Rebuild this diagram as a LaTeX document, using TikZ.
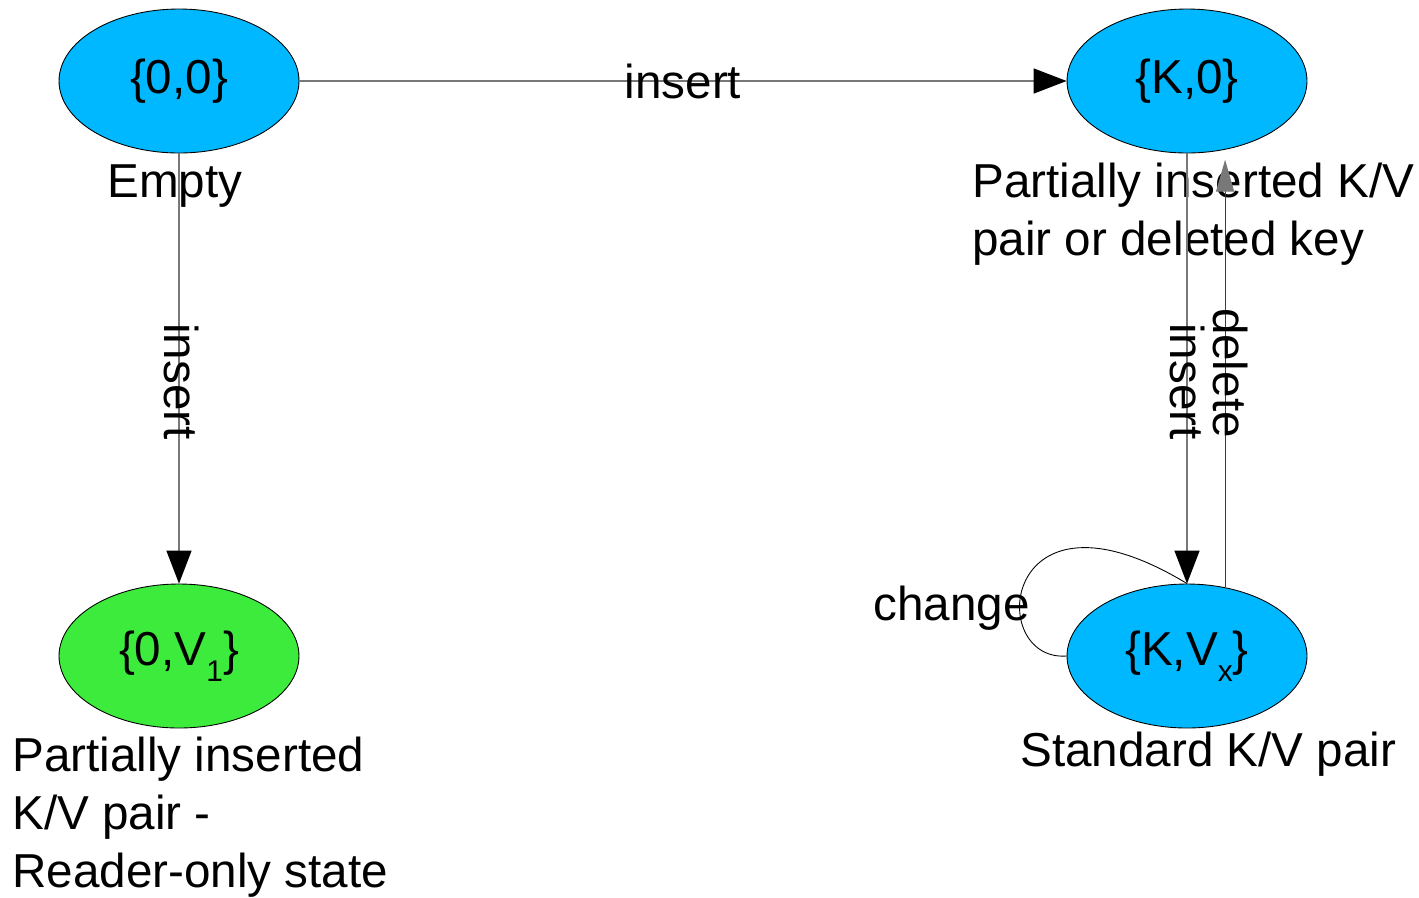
\documentclass[tikz,border=0pt]{standalone}
\usepackage{fontspec}
\setmainfont{Liberation Sans}
\usepackage{tikz}
\usetikzlibrary{arrows.meta,shapes.geometric,positioning}
\usepackage{xcolor}
\definecolor{stblue}{RGB}{0,184,255}
\definecolor{stgreen}{RGB}{61,235,61}
\definecolor{edgegray}{RGB}{120,120,120}
\definecolor{darkedge}{RGB}{60,60,60}
\newcommand\bigfont{\fontsize{27.1}{32.9}\selectfont}
\newcommand\subidx[1]{\raisebox{-9pt}{\fontsize{17}{17}\selectfont #1}}
\tikzstyle{state} = [ellipse, draw=black, line width=0.5pt, minimum width=4.8cm, minimum height=2.88cm, inner sep=0pt, fill=stblue, font=\bigfont]
\tikzstyle{caption} = [inner sep=0pt, align=left, font=\bigfont]
\tikzstyle{arrow} = [line width=0.8pt, color=edgegray, -{Triangle[length=0.66cm,width=0.5cm,color=black]}]
\tikzstyle{backarrow} = [line width=0.6pt, color=darkedge, -{Triangle[length=0.64cm,width=0.36cm,color=edgegray]}]
\tikzstyle{edgelabel} = [inner sep=0pt, font=\bigfont, text=black]

\begin{document}
\begin{tikzpicture}[x=0.02cm, y=-0.02cm]
\useasboundingbox (0,0) rectangle (1419,897);

% the four states
\node (empty) [state] at (179,81) {\{0,0\}};
\node (kzero) [state] at (1187,81) {\{K,0\}};
\node (zerov) [state, fill=stgreen] at (179,656) {\{0,V\subidx{1}\}};
\node (kv) [state] at (1187,656) {\{K,V\subidx{x}\}};

% what each state means (base = last line)
\node (emptycap) [caption, anchor=base] at (175,197) {Empty};
\node (kzerocap) [caption, anchor=base west] at (972,255) {Partially inserted K/V\\pair or deleted key};
\node (zerovcap) [caption, anchor=base west] at (12,887) {Partially inserted\\K/V pair -\\Reader-only state};
\node (kvcap) [caption, anchor=base west] at (1020,766) {Standard K/V pair};
\node (changecap) [caption, anchor=base east] at (1030,620) {change};

% self loop on the full pair
\draw [line width=0.5pt] (kv.west) .. controls (985,662) and (1000,470) .. (kv.north);

% transitions
\draw [arrow] (empty) -- node [edgelabel] {insert} (kzero);
\draw [arrow] (empty) -- node [edgelabel, xshift=0.05cm, rotate=-90, pos=0.53] {insert} (zerov);
\draw [arrow] (kzero) -- node [edgelabel, rotate=-90, pos=0.53] {insert} (kv);
\draw [backarrow, shorten >=0.2cm] (kv.61.6) -- node [edgelabel, xshift=0.1cm, rotate=-90, pos=0.49] {delete} (kzero.-61.6);

\end{tikzpicture}
\end{document}
